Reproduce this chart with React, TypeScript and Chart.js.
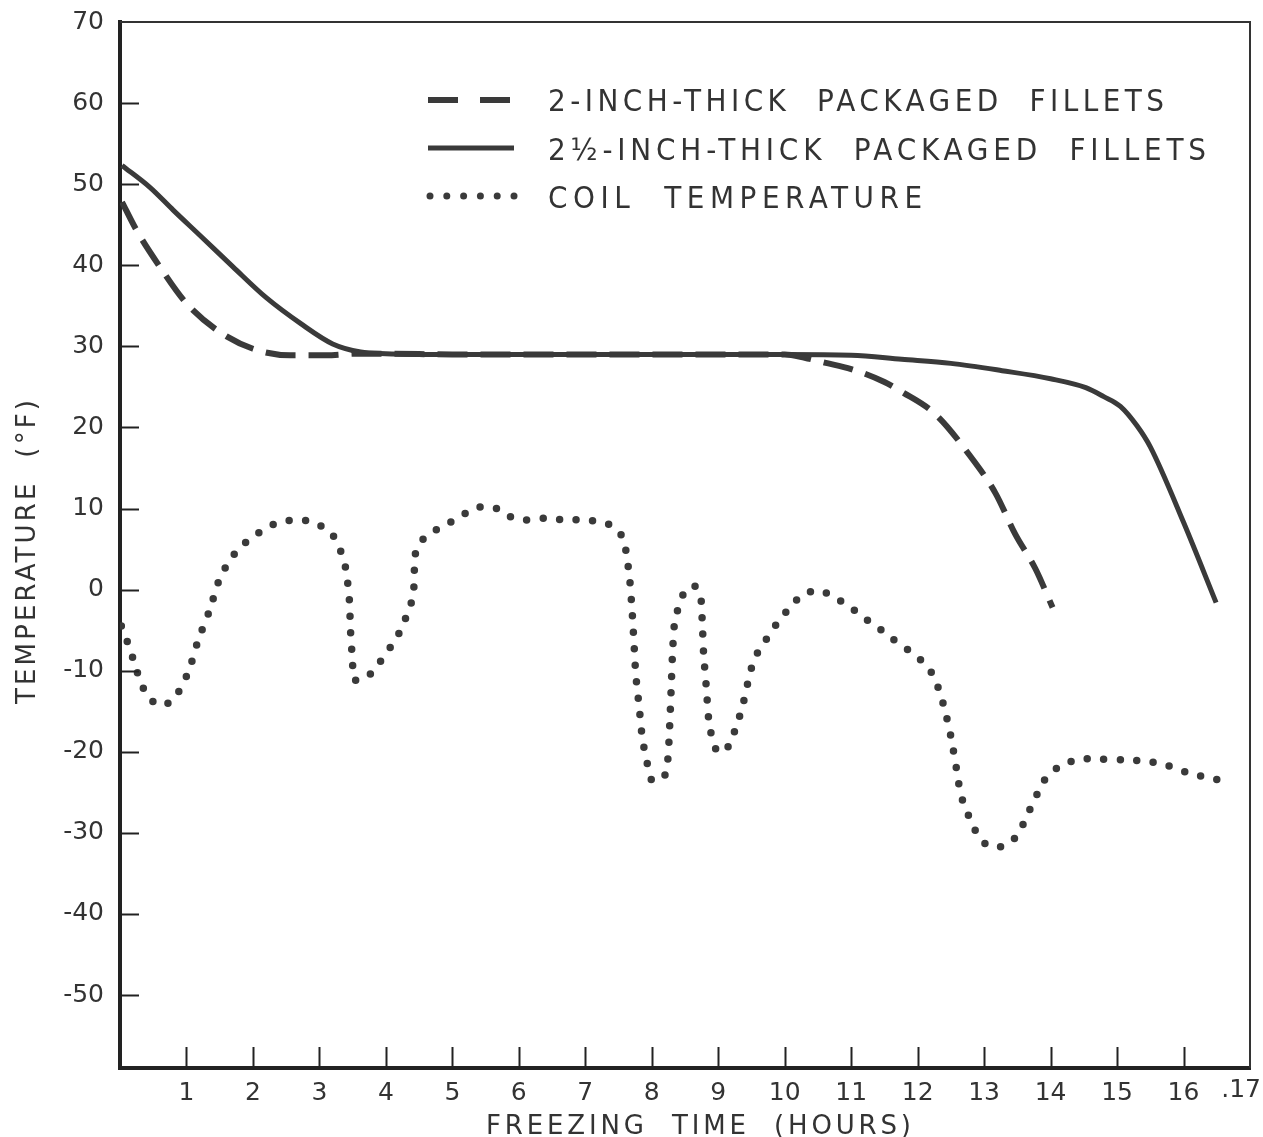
import React, { useEffect, useRef } from "react";
import { Chart, registerables } from "chart.js";

Chart.register(...registerables);

// ---- data (hours, °F) ----
const twoInchHours = [0.03, 0.25, 0.6, 1.0, 1.46, 2.0, 2.56, 3.1, 3.6, 4.0, 5.0, 6.0, 7.0, 8.0, 9.0, 10.0, 10.3, 10.6, 11.0, 11.5, 11.76, 12.27, 12.77, 13.17, 13.47, 13.77, 14.03];
const twoInchTemps = [47.8, 44.3, 39.8, 35.3, 32.0, 29.7, 28.9, 28.9, 29.1, 29.1, 29.0, 29.0, 29.0, 29.0, 29.0, 29.0, 28.6, 28.0, 27.2, 25.6, 24.4, 21.6, 16.7, 11.9, 6.8, 2.6, -2.2];

const twoHalfInchHours = [0.03, 0.45, 0.8, 1.2, 1.7, 2.2, 2.72, 3.2, 3.62, 4.0, 5.0, 6.0, 7.0, 8.0, 9.0, 10.0, 11.0, 11.76, 12.5, 13.27, 14.0, 14.53, 14.8, 15.05, 15.3, 15.5, 16.0, 16.49];
const twoHalfInchTemps = [52.3, 49.6, 46.8, 43.7, 39.8, 36.0, 32.8, 30.3, 29.3, 29.1, 29.0, 29.0, 29.0, 29.0, 29.0, 29.0, 28.9, 28.4, 27.9, 27.0, 26.0, 24.9, 23.8, 22.6, 20.2, 17.6, 8.3, -1.6];

const coilHours = [0.02, 0.14, 0.23, 0.31, 0.43, 0.61, 0.81, 1.03, 1.17, 1.35, 1.5, 1.63, 1.79, 2.0, 2.24, 2.46, 2.69, 2.92, 3.17, 3.28, 3.38, 3.42, 3.45, 3.47, 3.5, 3.51, 3.7, 3.85, 4.1, 4.25, 4.33, 4.41, 4.43, 4.45, 4.57, 4.78, 4.99, 5.22, 5.42, 5.67, 5.87, 6.11, 6.38, 6.67, 6.92, 7.18, 7.42, 7.58, 7.62, 7.66, 7.7, 7.73, 7.76, 7.81, 7.86, 7.95, 8.01, 8.19, 8.24, 8.27, 8.29, 8.31, 8.34, 8.39, 8.48, 8.63, 8.73, 8.76, 8.78, 8.82, 8.86, 8.91, 9.0, 9.19, 9.26, 9.35, 9.47, 9.55, 9.71, 9.88, 10.08, 10.27, 10.53, 10.75, 10.96, 11.18, 11.39, 11.61, 11.85, 12.05, 12.22, 12.34, 12.41, 12.48, 12.53, 12.58, 12.62, 12.69, 12.79, 12.9, 13.06, 13.31, 13.51, 13.62, 13.73, 13.83, 13.95, 14.18, 14.45, 14.74, 15.11, 15.46, 15.73, 16.03, 16.32, 16.62];
const coilTemps = [-4.5, -7.1, -9.4, -11.4, -13.3, -14.3, -13.5, -10.1, -6.4, -2.5, 1.4, 3.3, 5.1, 6.5, 7.8, 8.4, 8.6, 8.3, 7.0, 5.6, 3.2, 1.2, -1.2, -5.4, -9.1, -11.1, -10.9, -9.6, -6.7, -4.6, -2.7, -0.9, 2.7, 4.6, 6.3, 7.5, 8.4, 9.5, 10.2, 10.0, 9.0, 8.6, 8.8, 8.6, 8.6, 8.4, 7.8, 6.2, 4.1, 2.0, -2.1, -6.2, -10.5, -14.4, -18.4, -22.1, -23.6, -23.0, -21.1, -16.7, -12.6, -8.3, -4.3, -2.5, -0.5, 0.5, -0.6, -4.1, -7.9, -12.0, -16.3, -18.3, -20.1, -19.0, -17.0, -14.9, -10.6, -8.4, -6.3, -4.2, -2.2, -0.6, -0.1, -1.0, -2.0, -3.4, -4.6, -6.0, -7.4, -8.7, -10.4, -12.8, -14.9, -17.3, -19.5, -21.9, -24.0, -26.4, -28.3, -30.2, -31.6, -31.6, -30.2, -28.3, -26.4, -24.7, -23.0, -21.6, -20.9, -20.9, -21.0, -21.2, -21.6, -22.5, -23.1, -23.6];

const yTickValues = [70, 60, 50, 40, 30, 20, 10, 0, -10, -20, -30, -40, -50];
const xTickValues = [1, 2, 3, 4, 5, 6, 7, 8, 9, 10, 11, 12, 13, 14, 15, 16, 17];
const xTickLabels = ["1", "2", "3", "4", "5", "6", "7", "8", "9", "10", "11", "12", "13", "14", "15", "16", ".17"];
const legendLabels = [
  "2-INCH-THICK  PACKAGED  FILLETS",
  "2½-INCH-THICK  PACKAGED  FILLETS",
  "COIL  TEMPERATURE",
];
const xTitle = "FREEZING  TIME  (HOURS)";
const yTitle = "TEMPERATURE  (°F)";

const INK = "#333333";
const LINE = "#3a3a3a";
const FONT = '"DejaVu Sans", sans-serif';
const COND = '"DejaVu Sans Condensed", "DejaVu Sans", sans-serif';
const TICK_FONT_SIZE = 25;

const toPts = (xs: number[], ys: number[]) => xs.map((x, i) => ({ x, y: ys[i] }));

function drawFitted(ctx: any, text: string, x: number, y: number, width: number) {
  ctx.letterSpacing = "0px";
  const w = ctx.measureText(text).width;
  const n = Array.from(text).length;
  const ls = n > 1 ? (width - w) / (n - 1) : 0;
  ctx.letterSpacing = ls + "px";
  ctx.fillText(text, x, y);
  ctx.letterSpacing = "0px";
}

const decor = {
  id: "decor",
  afterDraw(chart: any) {
    const { ctx, chartArea } = chart;
    const { left, top, right, bottom } = chartArea;
    const xs = chart.scales.x;
    const ys = chart.scales.y;
    ctx.save();
    // frame top & right
    ctx.strokeStyle = INK;
    ctx.lineWidth = 2;
    ctx.beginPath();
    ctx.moveTo(left, top);
    ctx.lineTo(right, top);
    ctx.lineTo(right, bottom);
    ctx.stroke();
    // inward tick marks
    ctx.lineWidth = 2;
    ctx.strokeStyle = "#222";
    yTickValues.forEach((v) => {
      if (v === 70) return;
      const py = Math.round(ys.getPixelForValue(v)) + 0.5;
      ctx.beginPath();
      ctx.moveTo(left, py);
      ctx.lineTo(left + 19, py);
      ctx.stroke();
    });
    xTickValues.forEach((v) => {
      if (v === 17) return;
      const px = Math.round(xs.getPixelForValue(v)) + 0.5;
      ctx.beginPath();
      ctx.moveTo(px, bottom);
      ctx.lineTo(px, bottom - 21);
      ctx.stroke();
    });

    // last x tick label, kept inside the canvas
    ctx.fillStyle = INK;
    ctx.font = TICK_FONT_SIZE + "px " + FONT;
    ctx.textAlign = "right";
    ctx.textBaseline = "top";
    const lastIdx = xTickValues.length - 1;
    ctx.fillText(xTickLabels[lastIdx], Math.min(xs.getPixelForValue(xTickValues[lastIdx]) + 12, 1261), bottom + 10);

    // axis titles
    ctx.textBaseline = "alphabetic";
    ctx.textAlign = "left";
    ctx.font = "26px " + FONT;
    drawFitted(ctx, xTitle, 486, 1134, 425);
    ctx.save();
    ctx.translate(35, 552);
    ctx.rotate(-Math.PI / 2);
    drawFitted(ctx, yTitle, -152, 0, 304);
    ctx.restore();

    // legend
    const rows = [100, 148, 196];
    const baselines = [111, 160, 208];
    const widths = [616, 658, 374];
    const x0 = 428;
    const x1 = 514;
    ctx.strokeStyle = LINE;
    ctx.lineWidth = 6;
    ctx.lineCap = "butt";
    ctx.setLineDash([30, 22]);
    ctx.beginPath();
    ctx.moveTo(x0, rows[0]);
    ctx.lineTo(x1, rows[0]);
    ctx.stroke();
    ctx.setLineDash([]);
    ctx.lineWidth = 5;
    ctx.beginPath();
    ctx.moveTo(x0, rows[1]);
    ctx.lineTo(x1, rows[1]);
    ctx.stroke();
    ctx.fillStyle = LINE;
    for (let i = 0; i < 6; i++) {
      ctx.beginPath();
      ctx.arc(x0 + 2 + i * 16.8, rows[2], 3.5, 0, Math.PI * 2);
      ctx.fill();
    }
    ctx.fillStyle = INK;
    ctx.font = "31px " + COND;
    legendLabels.forEach((t, i) => drawFitted(ctx, t, 548, baselines[i], widths[i]));
    ctx.restore();
  },
};

export default function App() {
  const ref = useRef<HTMLCanvasElement | null>(null);
  useEffect(() => {
    document.body.style.margin = "0";
    const canvas = ref.current;
    if (!canvas) return;
    const chart = new Chart(canvas, {
      type: "line",
      data: {
        datasets: [
          {
            label: legendLabels[0],
            data: toPts(twoInchHours, twoInchTemps),
            borderColor: LINE,
            borderWidth: 6,
            borderDash: [30, 13],
            pointRadius: 0,
            cubicInterpolationMode: "monotone",
            fill: false,
          },
          {
            label: legendLabels[1],
            data: toPts(twoHalfInchHours, twoHalfInchTemps),
            borderColor: LINE,
            borderWidth: 5,
            pointRadius: 0,
            cubicInterpolationMode: "monotone",
            fill: false,
          },
          {
            label: legendLabels[2],
            data: toPts(coilHours, coilTemps),
            borderColor: LINE,
            borderWidth: 7.5,
            borderDash: [0, 16.5],
            borderCapStyle: "round",
            pointRadius: 0,
            tension: 0.25,
            fill: false,
          },
        ],
      },
      options: {
        animation: false,
        responsive: false,
        maintainAspectRatio: false,
        layout: { padding: { top: 22, right: 13, left: 0, bottom: 0 } },
        plugins: { legend: { display: false }, tooltip: { enabled: false } },
        scales: {
          x: {
            type: "linear",
            min: 0,
            max: 17,
            afterFit: (s: any) => {
              s.height = 69;
              s.paddingLeft = 0;
              s.paddingRight = 0;
            },
            afterBuildTicks: (s: any) => {
              s.ticks = xTickValues.map((v) => ({ value: v }));
            },
            ticks: {
              autoSkip: false,
              maxRotation: 0,
              padding: 10,
              color: INK,
              font: { family: FONT, size: TICK_FONT_SIZE },
              callback: (v: any) => {
                const i = xTickValues.indexOf(Number(v));
                // the last label is drawn by the decor plugin so it stays on the canvas
                return i >= 0 && i < xTickValues.length - 1 ? xTickLabels[i] : "";
              },
            },
            grid: { display: false, drawTicks: false },
            border: { display: true, width: 4, color: "#222" },
          },
          y: {
            type: "linear",
            min: -59,
            max: 70,
            afterFit: (s: any) => {
              s.width = 120;
              s.paddingTop = 0;
              s.paddingBottom = 0;
            },
            afterBuildTicks: (s: any) => {
              s.ticks = yTickValues.slice().reverse().map((v) => ({ value: v }));
            },
            ticks: {
              autoSkip: false,
              padding: 16,
              color: INK,
              font: { family: FONT, size: TICK_FONT_SIZE },
              callback: (v: any) => String(v),
            },
            grid: { display: false, drawTicks: false },
            border: { display: true, width: 4, color: "#222" },
          },
        },
      },
      plugins: [decor],
    } as any);
    return () => chart.destroy();
  }, []);
  return (
    <div style={{ position: "fixed", left: 0, top: 0, width: 1263, height: 1137, background: "#fff" }}>
      <canvas ref={ref} width={1263} height={1137} style={{ display: "block", width: 1263, height: 1137 }} />
    </div>
  );
}
